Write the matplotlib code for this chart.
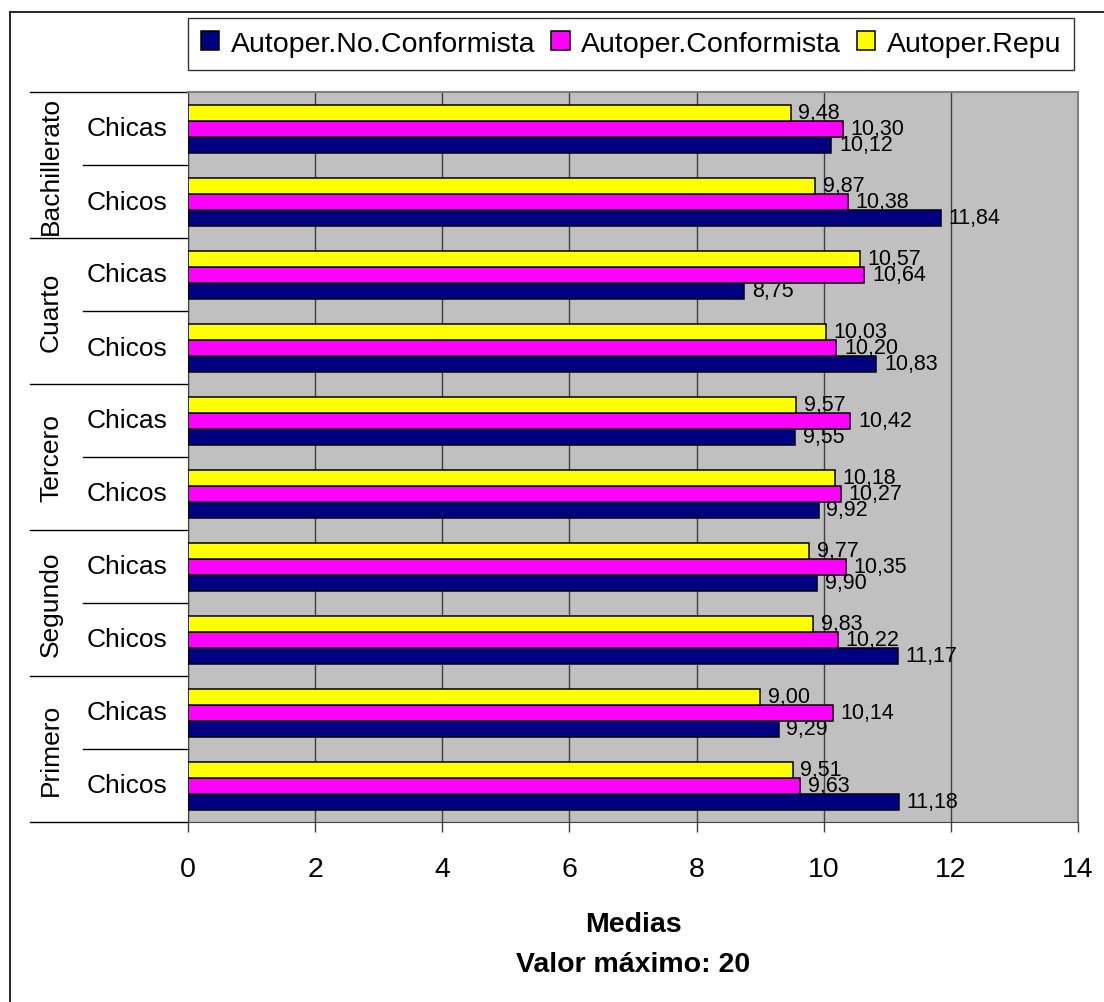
import numpy as np
import matplotlib
matplotlib.use("Agg")
import matplotlib.pyplot as plt
import matplotlib.transforms as mtransforms
from matplotlib.patches import Patch
from matplotlib.lines import Line2D

plt.rcParams['font.family'] = ['Liberation Sans', 'DejaVu Sans']

# rows from bottom to top
cursos = ["Primero", "Segundo", "Tercero", "Cuarto", "Bachillerato"]
sexos = ["Chicos", "Chicas"]
series = ["Autoper.No.Conformista", "Autoper.Conformista", "Autoper.Repu"]
colores = ["#000080", "#FF00FF", "#FFFF00"]

no_conformista = [11.18, 9.29, 11.17, 9.90, 9.92, 9.55, 10.83, 8.75, 11.84, 10.12]
conformista = [9.63, 10.14, 10.22, 10.35, 10.27, 10.42, 10.20, 10.64, 10.38, 10.30]
repu = [9.51, 9.00, 9.83, 9.77, 10.18, 9.57, 10.03, 10.57, 9.87, 9.48]

W, H = 1104, 1003
fig = plt.figure(figsize=(W / 100, H / 100), dpi=100)
ax = fig.add_axes([188 / W, 1 - 823 / H, 890 / W, 730 / H])
ax.set_facecolor("#C0C0C0")

n = len(no_conformista)
y = np.arange(n)
h = 16 / 73
valores = [no_conformista, conformista, repu]
for i, (vals, col, nom) in enumerate(zip(valores, colores, series)):
    pos = y + (i - 1) * h
    ax.barh(pos, vals, height=h, color=col, edgecolor="black", linewidth=1.1,
            label=nom, zorder=3)
    for p, v in zip(pos, vals):
        ax.annotate(f"{v:.2f}".replace(".", ","), (v, p), xytext=(5.5, 0),
                    textcoords="offset points", ha="left", va="center",
                    fontsize=15.5, zorder=4)

ax.set_xlim(0, 14)
ax.set_ylim(-0.5, n - 0.5)
ax.set_xticks(np.arange(0, 15, 2))
ax.tick_params(axis="x", labelsize=20.5, length=7.5, width=1, pad=17, color="#404040")
ax.set_yticks([])
ax.grid(axis="x", color="#404040", linewidth=1, zorder=1)
ax.set_axisbelow(True)
for s in ["top", "right"]:
    ax.spines[s].set_color("#808080")
    ax.spines[s].set_linewidth(1.5)
ax.spines["left"].set_color("#404040")
ax.spines["bottom"].set_color("#404040")

# category axis: labels and separator lines
trans = mtransforms.blended_transform_factory(ax.transAxes, ax.transData)
x_long = (30 - 188) / 890
x_short = (83 - 188) / 890
for k in range(n + 1):
    yb = k - 0.5
    x0 = x_long if k % 2 == 0 else x_short
    ax.plot([x0, 0], [yb, yb], transform=trans, color="black", linewidth=1,
            clip_on=False)
for k in range(n):
    ax.text((127 - 188) / 890, k, sexos[k % 2], transform=trans, fontsize=19,
            ha="center", va="center")
for g, curso in enumerate(cursos):
    ax.text((51 - 188) / 890, 2 * g + 0.5, curso, transform=trans, fontsize=19,
            ha="center", va="center", rotation=90)

fig.text(633 / W, 1 - 932 / H, "Medias", fontsize=20.5, fontweight="bold",
         ha="center", va="baseline")
fig.text(633 / W, 1 - 972 / H, "Valor máximo: 20", fontsize=20.5,
         fontweight="bold", ha="center", va="baseline")

handles = [Patch(facecolor=c, edgecolor="black", linewidth=1.1) for c in colores]
leg = fig.legend(handles, series, loc="upper left", ncol=3, mode="expand",
                 bbox_to_anchor=(188 / W, 1 - 69 / H, 886 / W, 50 / H),
                 fontsize=20.5, frameon=True, fancybox=False, borderpad=0.45,
                 handlelength=0.65, handleheight=0.65, handletextpad=0.4,
                 columnspacing=0.4, borderaxespad=0)
leg.get_frame().set_edgecolor("black")
leg.get_frame().set_linewidth(1)

# outer border of the chart
fig.add_artist(Line2D([10 / W, 10 / W], [0, 1 - 13 / H], color="black",
                      linewidth=1.2, transform=fig.transFigure))
fig.add_artist(Line2D([10 / W, 1], [1 - 13 / H, 1 - 13 / H], color="black",
                      linewidth=1.2, transform=fig.transFigure))

fig.savefig("out.png", dpi=100)
